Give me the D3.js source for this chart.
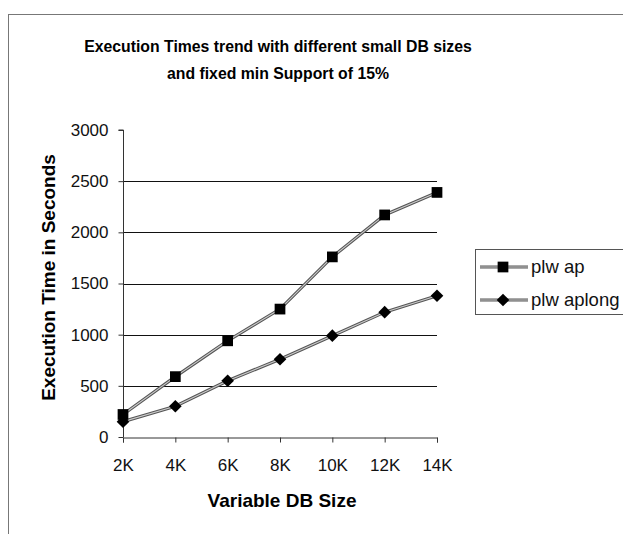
<!DOCTYPE html>
<html>
<head>
<meta charset="utf-8">
<script src="https://cdn.jsdelivr.net/npm/d3@7"></script>
<style>
  body { margin: 0; background: #fff; }
  svg { display: block; font-family: "Liberation Sans", Arial, sans-serif; }
</style>
</head>
<body>
<div id="chart"></div>
<script>
const categories = ["2K", "4K", "6K", "8K", "10K", "12K", "14K"];
const plwap = [220, 590, 940, 1250, 1760, 2170, 2390];
const plwaplong = [150, 300, 550, 760, 990, 1220, 1380];
const yTicks = [0, 500, 1000, 1500, 2000, 2500, 3000];

const width = 623, height = 534;
const plot = { left: 123, right: 437, top: 130, bottom: 437 };

const svg = d3.select("#chart").append("svg").attr("width", width).attr("height", height);

// outer chart frame (only top and left visible in the scan)
svg.append("rect")
  .attr("x", 8.5).attr("y", 14.5).attr("width", 640).attr("height", 560)
  .attr("fill", "none").attr("stroke", "#777").attr("stroke-width", 1);

const x = d3.scalePoint().domain(categories).range([plot.left, plot.right]);
const y = d3.scaleLinear().domain([0, 3000]).range([plot.bottom, plot.top]);

// title
svg.append("text").attr("x", 278).attr("y", 52).attr("text-anchor", "middle")
  .attr("font-size", 15.8).attr("font-weight", "bold")
  .text("Execution Times trend with different small DB sizes");
svg.append("text").attr("x", 278).attr("y", 79).attr("text-anchor", "middle")
  .attr("font-size", 15.8).attr("font-weight", "bold")
  .text("and fixed min Support of 15%");

// gridlines
svg.append("g").selectAll("line").data(yTicks.filter(d => d > 0 && d < 3000)).enter().append("line")
  .attr("x1", plot.left).attr("x2", plot.right)
  .attr("y1", d => Math.round(y(d)) + 0.5).attr("y2", d => Math.round(y(d)) + 0.5)
  .attr("stroke", "#111").attr("stroke-width", 1);

// axes
const yAxis = svg.append("g").attr("transform", `translate(${plot.left + 0.5},0)`)
  .call(d3.axisLeft(y).tickValues(yTicks).tickSize(5).tickPadding(10).tickFormat(d3.format("d")));
const xAxis = svg.append("g").attr("transform", `translate(0,${Math.round(plot.bottom) + 0.5})`)
  .call(d3.axisBottom(x).tickSize(5).tickPadding(16));
[yAxis, xAxis].forEach(a => {
  a.select(".domain").attr("stroke", "#333");
  a.selectAll(".tick line").attr("stroke", "#333");
  a.selectAll("text").attr("font-size", 17).attr("fill", "#111")
    .attr("font-family", "'Liberation Sans', Arial, sans-serif");
});
yAxis.select(".domain").attr("d", `M-5,${y(3000)}H0V${y(0)}`);

// axis titles
svg.append("text").attr("x", 282).attr("y", 507).attr("text-anchor", "middle")
  .attr("font-size", 19).attr("font-weight", "bold").text("Variable DB Size");
svg.append("text").attr("transform", `translate(55,${(plot.top + plot.bottom) / 2 - 6}) rotate(-90)`)
  .attr("text-anchor", "middle").attr("font-size", 19).attr("font-weight", "bold")
  .text("Execution Time in Seconds");

const line = d3.line().x((d, i) => x(categories[i])).y(d => y(d));

function drawSeries(values) {
  svg.append("path").datum(values).attr("d", line)
    .attr("fill", "none").attr("stroke", "#555").attr("stroke-width", 3.2);
  svg.append("path").datum(values).attr("d", line)
    .attr("fill", "none").attr("stroke", "#ccc").attr("stroke-width", 1.1);
}
const square = d3.symbol().type(d3.symbolSquare).size(115);
// rotated square gives the wide diamond used in the original
const diamond = d3.symbol().type(d3.symbolSquare).size(80);

drawSeries(plwap);
drawSeries(plwaplong);

svg.append("g").selectAll("path").data(plwap).enter().append("path")
  .attr("d", square).attr("fill", "#000")
  .attr("transform", (d, i) => `translate(${x(categories[i])},${y(d)})`);
svg.append("g").selectAll("path").data(plwaplong).enter().append("path")
  .attr("d", diamond).attr("fill", "#000")
  .attr("transform", (d, i) => `translate(${x(categories[i])},${y(d)}) rotate(45)`);

// legend
const legend = svg.append("g");
legend.append("rect").attr("x", 475.5).attr("y", 249.5).attr("width", 148).attr("height", 65)
  .attr("fill", "#fff").attr("stroke", "#555");
const legendItems = [
  { name: "plw ap", shape: square, rot: 0, yy: 267 },
  { name: "plw aplong", shape: diamond, rot: 45, yy: 300 }
];
legendItems.forEach(it => {
  legend.append("line").attr("x1", 480).attr("x2", 528).attr("y1", it.yy).attr("y2", it.yy)
    .attr("stroke", "#555").attr("stroke-width", 3.2);
  legend.append("line").attr("x1", 480).attr("x2", 528).attr("y1", it.yy).attr("y2", it.yy)
    .attr("stroke", "#ccc").attr("stroke-width", 1.1);
  legend.append("path").attr("d", it.shape).attr("fill", "#000")
    .attr("transform", `translate(503,${it.yy}) rotate(${it.rot})`);
  legend.append("text").attr("x", 531).attr("y", it.yy + 6).attr("font-size", 18.5)
    .attr("fill", "#111").text(it.name);
});
</script>
</body>
</html>
